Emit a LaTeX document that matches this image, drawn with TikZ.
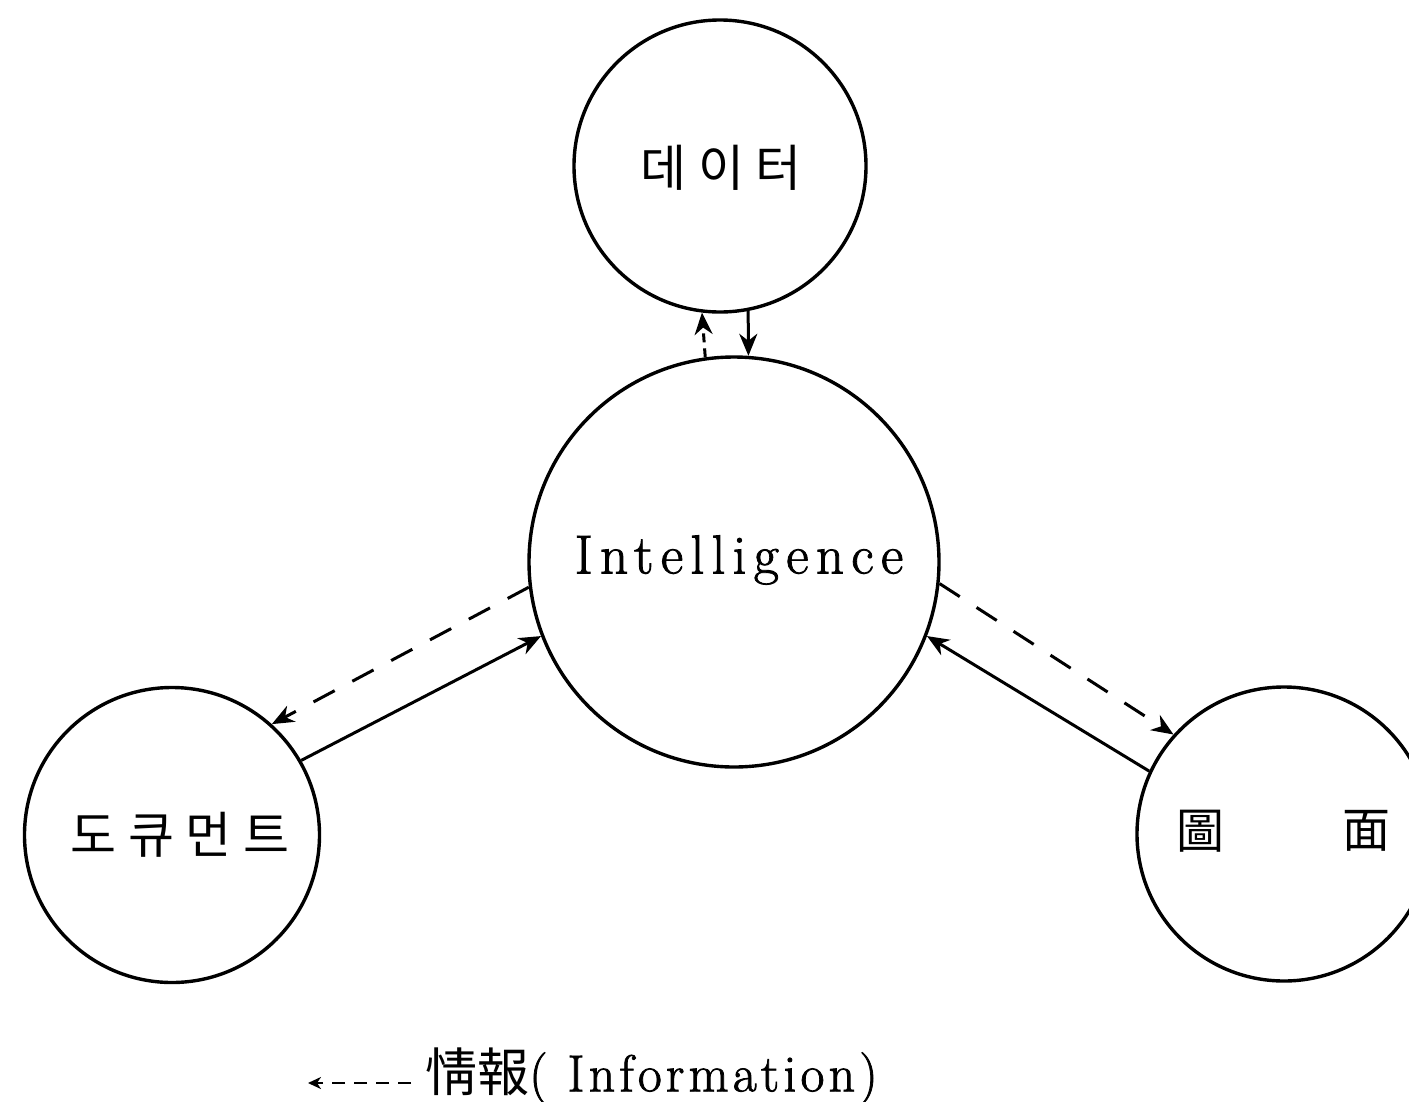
\documentclass[tikz,border=0pt]{standalone}
\usepackage{fontspec}
\newfontfamily\kr{Noto Sans CJK KR}[LetterSpace=23]
\newfontfamily\krplain{Noto Sans CJK KR}
\newfontfamily\lmsp{Latin Modern Roman}[LetterSpace=13.3,FakeBold=1.5]
\newfontfamily\lmleg{Latin Modern Roman}[LetterSpace=8,FakeBold=1.5]
\usetikzlibrary{arrows.meta}
\begin{document}
\begin{tikzpicture}[x=1pt,y=-1pt,
  circ/.style={circle,draw,line width=3.4pt,inner sep=0pt},
  flow/.style={line width=3pt,-{Stealth[length=22pt,width=18pt,inset=7pt]}},
  info/.style={flow,dash pattern=on 24pt off 20pt},
  infoshort/.style={flow,dash pattern=on 9pt off 6pt},
  krlabel/.style={font=\kr\fontsize{50}{54}\selectfont},
  hjlabel/.style={font=\krplain\fontsize{48}{52}\selectfont}]
\useasboundingbox (0,0) rectangle (1409,1101);
\fill[white] (0,0) rectangle (1409,1101);
% circles
\node[circ,minimum size=292pt] (data) at (720,166) {};
\node[krlabel] (datal) at (721,168) {데이터};
\node[circ,minimum size=410pt] (int) at (734,562) {};
\node[font=\lmsp\fontsize{55}{60}\selectfont] (intl) at (739,560) {Intelligence};
\node[circ,minimum size=295pt] (doc) at (172,835) {};
\node[krlabel] (docl) at (180,835) {도큐먼트};
\node[circ,minimum size=294pt] (fig) at (1284,834) {};
\node[hjlabel] (tu) at (1200,831) {圖};
\node[hjlabel] (mian) at (1366,831) {面};
% top connectors
\draw[infoshort] (int.98.7) -- (data.263.3);
\draw[flow] (data.281.0) -- (int.86.1);
% left connectors
\draw[info] (int.187.9) -- (doc.48.3);
\draw[flow] (doc.30) -- (int.201.1);
% right connectors
\draw[info] (int.354.9) -- (fig.138.5);
\draw[flow] (fig.155.8) -- (int.339.8);
% legend
\node[anchor=west,inner sep=0pt,font=\lmleg\fontsize{52}{56}\selectfont] (legend) at (425,1076) {{\krplain 情報}( Information)};
\coordinate (lgtip) at (308,1083);
\draw[line width=2.6pt,dash pattern=on 13pt off 9pt,-{Stealth[length=13pt,width=12pt,inset=4pt]},shorten <=14pt] (legend.west |- lgtip) -- (lgtip);
\end{tikzpicture}
\end{document}
